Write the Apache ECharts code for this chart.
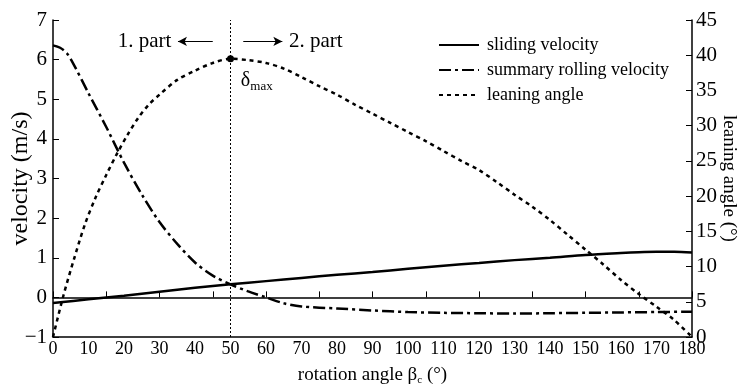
<!DOCTYPE html>
<html>
<head>
<meta charset="utf-8">
<script src="https://cdn.jsdelivr.net/npm/echarts@6/dist/echarts.min.js"></script>
<style>html,body{margin:0;padding:0;background:#fff}#c{width:746px;height:386px}</style>
</head>
<body>
<div id="c"></div>
<script>
// rotation angle (deg) sample points and values
const slidingX = [0, 10, 20, 30, 40, 50, 60, 70, 80, 90, 100, 110, 120, 130, 140, 150, 160, 165, 170, 175, 180];
const slidingV = [-0.14, -0.05, 0.04, 0.14, 0.24, 0.33, 0.41, 0.49, 0.57, 0.64, 0.72, 0.80, 0.87, 0.94, 1.00, 1.07, 1.12, 1.14, 1.15, 1.15, 1.13];

const rollingX = [0, 2, 4, 6, 10, 15, 20, 25, 30, 35, 40, 45, 50, 55, 60, 65, 70, 80, 90, 100, 110, 120, 130, 140, 150, 160, 170, 180];
const rollingV = [6.36, 6.30, 6.15, 5.85, 5.15, 4.30, 3.40, 2.60, 1.90, 1.35, 0.88, 0.55, 0.33, 0.15, 0.00, -0.15, -0.23, -0.28, -0.33, -0.37, -0.39, -0.40, -0.41, -0.40, -0.39, -0.38, -0.37, -0.36];

const leanX = [0, 3, 6, 9, 12, 15, 18, 21, 24, 27, 30, 35, 40, 45, 50, 55, 60, 65, 70, 75, 80, 85, 90, 95, 100, 105, 110, 115, 120, 125, 130, 135, 140, 145, 150, 155, 160, 165, 170, 175, 180];
const leanA = [0, 6.0, 11.2, 16.0, 19.8, 23.0, 26.0, 28.7, 31.1, 33.0, 34.4, 36.5, 37.8, 38.9, 39.5, 39.3, 38.9, 38.1, 36.9, 35.6, 34.4, 33.0, 31.7, 30.4, 29.1, 27.8, 26.4, 25.0, 23.7, 22.0, 20.2, 18.5, 16.6, 14.5, 12.4, 10.3, 8.1, 6.1, 4.3, 2.4, 0];

const seriesNames = ['sliding velocity', 'summary rolling velocity', 'leaning angle'];
const deltaMax = [50, 39.5];
const partSplit = 50;
// annotation arrows (deg from -> deg to) at velocity level
const arrowY = 6.46;
const arrow1 = [45.0, 35.2];
const arrow2 = [53.6, 64.6];

const FONT = 'Liberation Serif';
const pair = (xs, ys) => xs.map((x, i) => [x, ys[i]]);
const fmtNeg = v => (v < 0 ? '\u2212' + Math.abs(v) : String(v));
const textLabel = s => ({show: true, formatter: s, fontFamily: FONT, fontSize: 21, color: '#000'});

const chart = echarts.init(document.getElementById('c'), null, {renderer: 'canvas'});
chart.setOption({
  animation: false,
  backgroundColor: '#fff',
  textStyle: {fontFamily: FONT, color: '#000'},
  grid: {left: 53, right: 54, top: 20, bottom: 49, containLabel: false, outerBoundsMode: 'none'},
  legend: {
    orient: 'vertical', left: 433, top: 31, itemWidth: 40, itemHeight: 14, itemGap: 7,
    itemStyle: {opacity: 0, borderWidth: 0},
    textStyle: {fontFamily: FONT, fontSize: 18, color: '#000', padding: [0, 0, 0, 3]},
    data: seriesNames
  },
  xAxis: [{
    type: 'value', min: 0, max: 180, interval: 10, position: 'bottom',
    axisLine: {show: true, onZero: false, lineStyle: {color: '#000', width: 1.5}},
    axisTick: {show: false},
    splitLine: {show: false},
    axisLabel: {fontFamily: FONT, fontSize: 18, color: '#000', margin: 3},
    name: 'rotation angle β{s|c} (°)', nameLocation: 'middle', nameGap: 28, nameMoveOverlap: false,
    nameTextStyle: {fontFamily: FONT, fontSize: 19, color: '#000',
      rich: {s: {fontFamily: FONT, fontSize: 11, color: '#000', padding: [10, 0, 0, 0]}}}
  }, {
    type: 'value', min: 0, max: 180, interval: 15, position: 'bottom',
    axisLine: {show: true, onZero: true, onZeroAxisIndex: 0, lineStyle: {color: '#000', width: 1.5}},
    axisTick: {show: true, inside: true, length: 6, lineStyle: {color: '#000', width: 1}},
    axisLabel: {show: false},
    splitLine: {show: false}
  }],
  yAxis: [{
    type: 'value', min: -1, max: 7, interval: 1, position: 'left',
    axisLine: {show: true, onZero: false, lineStyle: {color: '#000', width: 1.5}},
    axisTick: {show: true, inside: true, length: 6, lineStyle: {color: '#000'}},
    splitLine: {show: false},
    axisLabel: {fontFamily: FONT, fontSize: 21, color: '#000', margin: 6, formatter: fmtNeg},
    name: 'velocity (m/s)', nameLocation: 'middle', nameGap: 20, nameMoveOverlap: false,
    nameTextStyle: {fontFamily: FONT, fontSize: 24, color: '#000'}
  }, {
    type: 'value', min: 0, max: 45, interval: 5, position: 'right',
    axisLine: {show: true, onZero: false, lineStyle: {color: '#000', width: 1.5}},
    axisTick: {show: true, inside: true, length: 6, lineStyle: {color: '#000'}},
    splitLine: {show: false},
    axisLabel: {fontFamily: FONT, fontSize: 21, color: '#000', margin: 4},
    name: 'leaning angle (°)', nameLocation: 'middle', nameGap: 27, nameRotate: -90, nameMoveOverlap: false,
    nameTextStyle: {fontFamily: FONT, fontSize: 19, color: '#000'}
  }],
  series: [{
    name: seriesNames[0], type: 'line', xAxisIndex: 0, yAxisIndex: 0,
    data: pair(slidingX, slidingV), symbol: 'none', smooth: 0.3,
    lineStyle: {color: '#000', width: 2.5, type: 'solid'}, itemStyle: {color: '#000'},
    markLine: {
      silent: true, symbol: ['none', 'none'], label: {show: false},
      lineStyle: {color: '#000', width: 1, type: [2, 2]},
      data: [{xAxis: partSplit}]
    },
    markPoint: {
      symbol: 'circle', symbolSize: 0,
      data: [
        {coord: [25.8, arrowY], label: textLabel('1. part')},
        {coord: [74.0, arrowY], label: textLabel('2. part')}
      ]
    }
  }, {
    name: seriesNames[1], type: 'line', xAxisIndex: 0, yAxisIndex: 0,
    data: pair(rollingX, rollingV), symbol: 'none', smooth: 0.3,
    lineStyle: {color: '#000', width: 2.5, type: [12, 4, 3, 4]}, itemStyle: {color: '#000'},
    markLine: {
      silent: true, symbol: ['none', 'arrow'], symbolSize: [7, 9], label: {show: false},
      lineStyle: {color: '#000', width: 1, type: 'solid'},
      data: [
        [{coord: [arrow1[0], arrowY]}, {coord: [arrow1[1], arrowY]}],
        [{coord: [arrow2[0], arrowY]}, {coord: [arrow2[1], arrowY]}]
      ]
    }
  }, {
    name: seriesNames[2], type: 'line', xAxisIndex: 0, yAxisIndex: 1,
    data: pair(leanX, leanA), symbol: 'none', smooth: 0.3,
    lineStyle: {color: '#000', width: 2.5, type: [4, 4]}, itemStyle: {color: '#000'},
    markPoint: {
      data: [
        {coord: deltaMax, symbol: 'circle', symbolSize: 7, itemStyle: {color: '#000'}, label: {show: false}},
        {coord: [57.4, 36.4], symbol: 'circle', symbolSize: 0,
          label: {show: true, formatter: '{d|δ}{s|max}',
            rich: {d: {fontFamily: FONT, fontSize: 20, color: '#000'},
                   s: {fontFamily: FONT, fontSize: 13, color: '#000', padding: [12, 0, 0, 0]}}}}
      ]
    }
  }]
});
</script>
</body>
</html>
